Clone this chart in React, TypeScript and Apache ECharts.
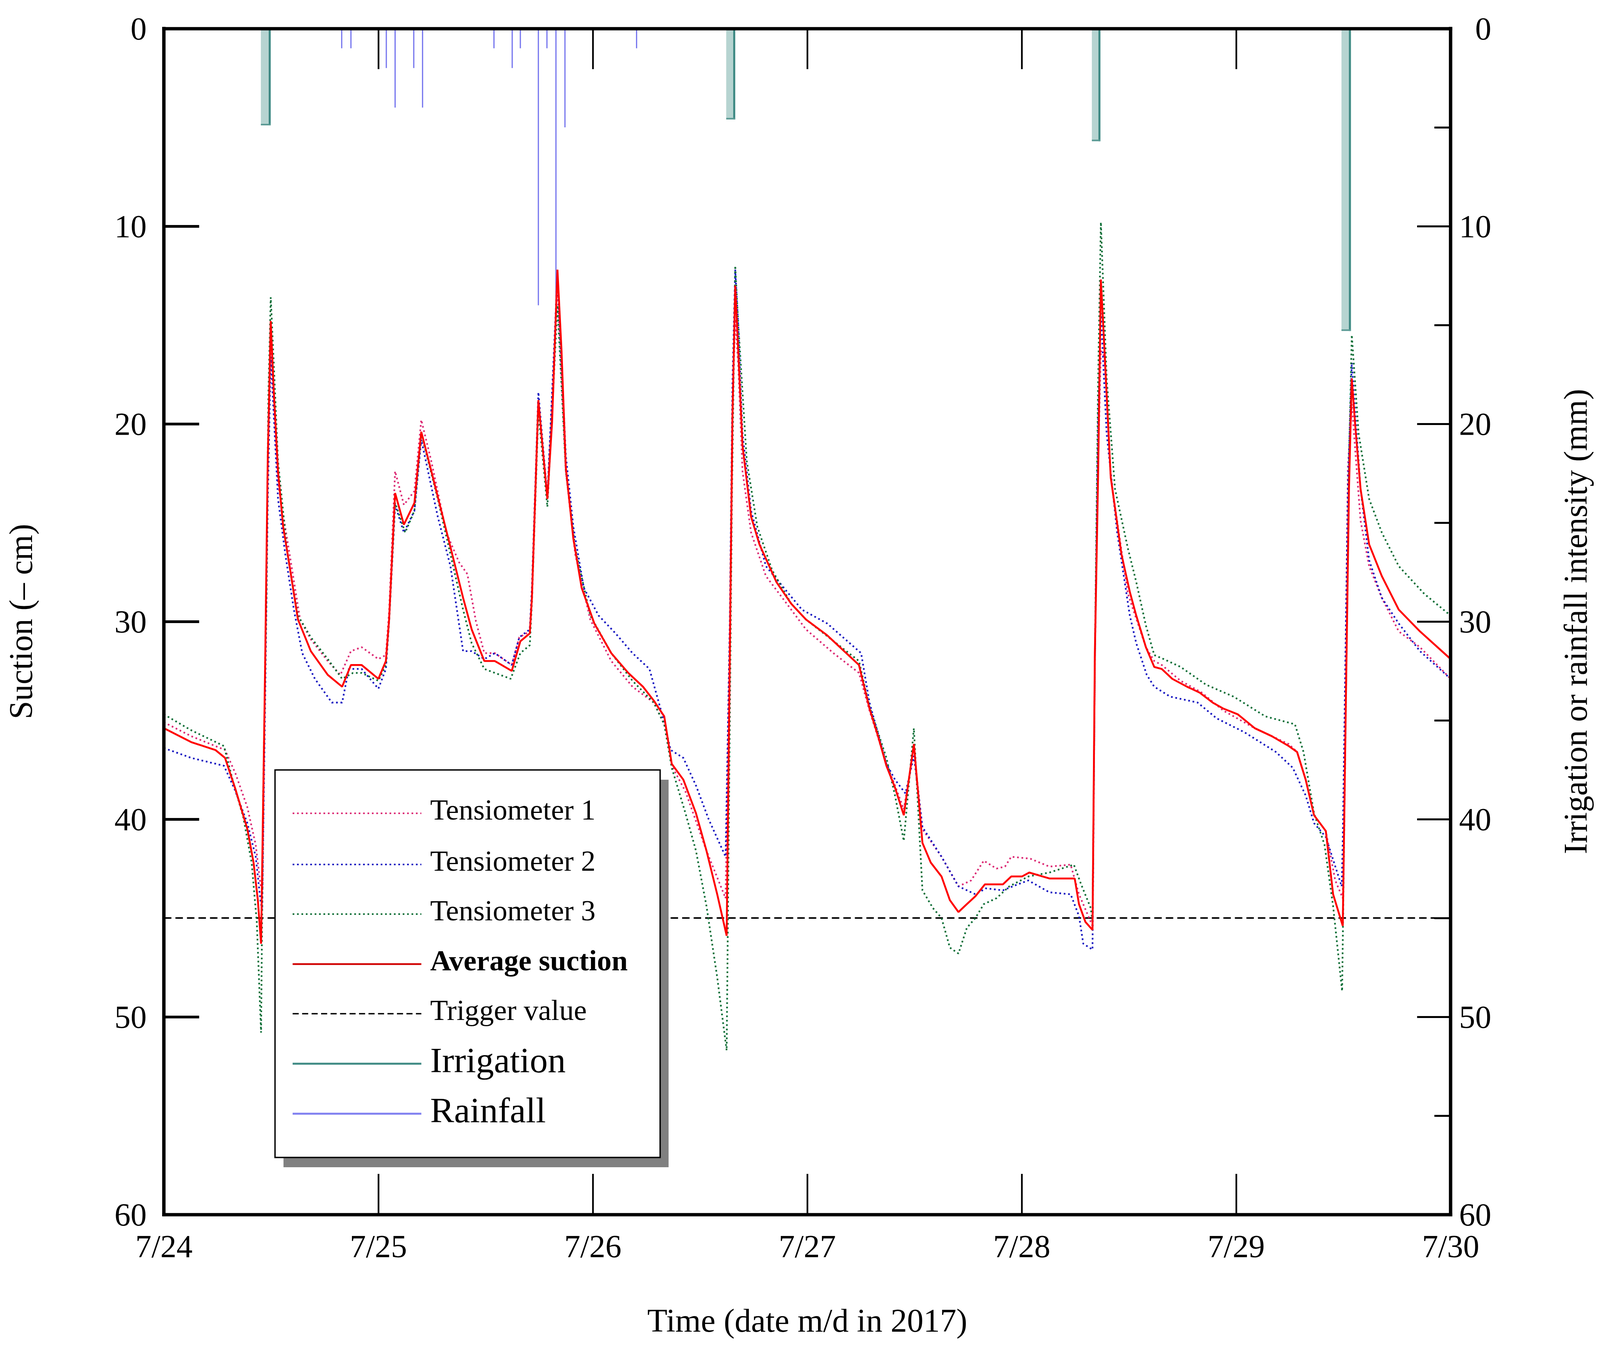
import React, { useEffect, useRef, useState } from "react";
import * as echarts from "echarts";

const W = 4724;
const H = 3461;
const FONT = "'Liberation Serif', 'Times New Roman', serif";

// ---- tick labels ----
const dateLabels = ["7/24", "7/25", "7/26", "7/27", "7/28", "7/29", "7/30"];

// ---- trigger value (suction, -cm) ----
const triggerValue = 45;

// ---- irrigation events: [start day, end day, amount mm] ----
const irrigation: number[][] = [
  [0.452, 0.498, 4.9],
  [2.622, 2.664, 4.6],
  [4.327, 4.367, 5.7],
  [5.491, 5.535, 15.3],
];

// ---- rainfall: [day, mm] ----
const rainfall: number[][] = [
  [0.829, 1], [0.872, 1], [1.037, 2], [1.078, 4], [1.165, 2], [1.206, 4],
  [1.539, 1], [1.624, 2], [1.662, 1], [1.746, 14], [1.786, 1], [1.828, 14],
  [1.87, 5], [2.204, 1],
];

// ---- tensiometer 1: [day, suction] ----
const tensiometer1: number[][] = [
  [0, 35.1], [0.127, 35.8], [0.285, 36.5], [0.334, 37.7], [0.389, 39.4], [0.428, 41.3],
  [0.45, 43.3], [0.46, 43.6], [0.472, 32.0], [0.484, 22.0], [0.498, 15.8], [0.512, 18.8],
  [0.532, 23.0], [0.586, 26.6], [0.635, 29.9], [0.685, 30.9], [0.764, 32.0], [0.823, 32.7],
  [0.872, 31.5], [0.922, 31.3], [1.0, 31.9], [1.035, 31.7], [1.05, 29.5], [1.078, 22.4],
  [1.119, 24.1], [1.168, 23.4], [1.2, 19.8], [1.247, 21.9], [1.317, 25.5], [1.376, 27.0],
  [1.415, 27.6], [1.455, 30.0], [1.494, 31.6], [1.543, 31.6], [1.622, 32.2], [1.657, 30.8],
  [1.706, 30.5], [1.716, 28.5], [1.746, 18.8], [1.788, 23.7], [1.835, 13.0], [1.874, 22.4],
  [1.918, 26.6], [1.988, 29.9], [2.086, 32.0], [2.185, 33.3], [2.284, 34.1], [2.333, 35.2],
  [2.368, 37.3], [2.432, 38.6], [2.53, 41.6], [2.619, 44.0], [2.639, 30.0], [2.651, 19.0],
  [2.664, 14.7], [2.678, 17.0], [2.698, 22.4], [2.738, 25.5], [2.807, 27.7], [2.925, 29.4],
  [2.994, 30.4], [3.122, 31.6], [3.241, 32.6], [3.29, 34.5], [3.369, 37.2], [3.409, 38.3],
  [3.45, 39.5], [3.497, 36.5], [3.537, 40.5], [3.626, 41.9], [3.705, 43.4], [3.764, 43.1],
  [3.823, 42.1], [3.882, 42.5], [3.922, 42.4], [3.951, 41.9], [4.04, 42.0], [4.129, 42.4],
  [4.228, 42.3], [4.267, 43.8], [4.33, 45.4], [4.341, 32.0], [4.356, 22.0], [4.369, 16.3],
  [4.386, 16.6], [4.415, 22.7], [4.465, 26.4], [4.495, 28.6], [4.579, 31.3], [4.618, 32.0],
  [4.653, 32.2], [4.741, 33.0], [4.84, 33.6], [4.939, 34.5], [5.087, 35.4], [5.245, 36.2],
  [5.284, 36.6], [5.324, 38.0], [5.363, 39.8], [5.418, 40.6], [5.462, 43.1], [5.497, 44.0],
  [5.521, 22.2], [5.539, 19.0], [5.58, 24.9], [5.62, 27.2], [5.679, 28.8], [5.758, 30.5],
  [5.857, 31.3], [6.0, 32.9],
];

// ---- tensiometer 2 ----
const tensiometer2: number[][] = [
  [0, 36.4], [0.127, 36.9], [0.28, 37.3], [0.33, 38.5], [0.389, 40.2], [0.428, 41.9],
  [0.45, 44.1], [0.458, 44.6], [0.472, 34.0], [0.484, 24.0], [0.498, 16.6], [0.512, 19.5],
  [0.532, 23.8], [0.566, 26.6], [0.606, 29.4], [0.645, 31.6], [0.704, 32.9], [0.783, 34.1],
  [0.831, 34.1], [0.862, 32.4], [0.922, 32.4], [1.0, 33.4], [1.035, 32.4], [1.05, 30.0],
  [1.078, 24.1], [1.119, 25.5], [1.168, 24.4], [1.2, 20.8], [1.277, 24.7], [1.336, 27.2],
  [1.395, 31.5], [1.435, 31.5], [1.494, 31.9], [1.543, 31.6], [1.622, 32.2], [1.657, 30.8],
  [1.706, 30.4], [1.716, 28.3], [1.746, 18.4], [1.788, 23.7], [1.835, 12.4], [1.874, 21.6],
  [1.909, 25.2], [1.958, 28.3], [2.027, 29.7], [2.106, 30.6], [2.185, 31.6], [2.264, 32.4],
  [2.323, 34.7], [2.363, 36.5], [2.422, 36.9], [2.481, 38.3], [2.54, 40.0], [2.619, 41.9],
  [2.639, 30.0], [2.651, 18.0], [2.664, 12.2], [2.678, 15.0], [2.698, 20.5], [2.738, 24.4],
  [2.807, 27.2], [2.975, 29.4], [3.093, 30.1], [3.251, 31.6], [3.29, 34.1], [3.369, 37.2],
  [3.409, 38.0], [3.458, 38.7], [3.497, 36.8], [3.537, 40.4], [3.626, 41.9], [3.705, 43.4],
  [3.784, 43.8], [3.833, 43.5], [3.912, 43.6], [3.981, 43.3], [4.031, 43.1], [4.129, 43.7],
  [4.228, 43.8], [4.267, 44.9], [4.287, 46.3], [4.33, 46.6], [4.341, 32.0], [4.356, 20.0],
  [4.369, 14.4], [4.396, 20.5], [4.445, 25.5], [4.504, 29.7], [4.534, 31.1], [4.583, 32.7],
  [4.618, 33.3], [4.692, 33.8], [4.82, 34.1], [4.909, 34.9], [5.038, 35.6], [5.185, 36.6],
  [5.264, 37.4], [5.324, 38.8], [5.363, 40.2], [5.418, 40.9], [5.492, 43.4], [5.497, 41.0],
  [5.521, 23.3], [5.539, 16.9], [5.58, 23.3], [5.62, 26.9], [5.679, 28.8], [5.758, 30.1],
  [5.857, 31.5], [6.0, 32.9],
];

// ---- tensiometer 3 ----
const tensiometer3: number[][] = [
  [0, 34.7], [0.127, 35.5], [0.28, 36.3], [0.32, 38.0], [0.37, 39.9], [0.409, 42.2],
  [0.433, 45.2], [0.453, 50.8], [0.463, 38.6], [0.478, 28.8], [0.487, 18.6], [0.498, 13.6],
  [0.512, 16.9], [0.532, 21.9], [0.576, 26.6], [0.625, 29.7], [0.685, 30.8], [0.764, 31.9],
  [0.831, 32.9], [0.882, 32.6], [0.922, 32.6], [1.0, 33.0], [1.035, 32.2], [1.05, 30.0],
  [1.078, 24.0], [1.125, 25.5], [1.168, 24.4], [1.2, 20.5], [1.277, 23.8], [1.336, 26.6],
  [1.395, 29.4], [1.435, 31.1], [1.494, 32.4], [1.617, 32.9], [1.662, 31.6], [1.706, 31.2],
  [1.716, 29.0], [1.746, 19.4], [1.788, 24.2], [1.835, 14.0], [1.874, 22.4], [1.918, 26.3],
  [1.988, 29.7], [2.086, 31.6], [2.185, 33.0], [2.284, 34.1], [2.333, 35.2], [2.368, 37.4],
  [2.432, 39.7], [2.481, 41.6], [2.53, 44.4], [2.58, 48.0], [2.624, 51.7], [2.649, 23.3],
  [2.664, 12.0], [2.678, 14.9], [2.718, 21.9], [2.767, 25.2], [2.836, 27.4], [2.925, 29.1],
  [2.994, 29.9], [3.241, 32.0], [3.29, 34.3], [3.369, 36.9], [3.409, 38.8], [3.45, 41.1],
  [3.497, 35.4], [3.537, 43.6], [3.586, 44.5], [3.626, 45.0], [3.665, 46.5], [3.705, 46.8],
  [3.744, 45.5], [3.784, 45.0], [3.823, 44.3], [3.882, 44.0], [3.942, 43.4], [4.031, 42.9],
  [4.129, 42.7], [4.243, 42.3], [4.277, 43.3], [4.322, 44.5], [4.33, 45.2], [4.343, 30.0],
  [4.356, 18.0], [4.369, 9.8], [4.396, 17.7], [4.435, 23.3], [4.495, 26.3], [4.534, 28.0],
  [4.579, 30.2], [4.618, 31.7], [4.662, 31.9], [4.741, 32.3], [4.86, 33.2], [4.988, 33.8],
  [5.136, 34.8], [5.274, 35.2], [5.314, 36.6], [5.363, 39.7], [5.412, 41.3], [5.452, 44.4],
  [5.494, 48.7], [5.511, 34.4], [5.526, 21.9], [5.539, 15.5], [5.571, 20.5], [5.62, 23.8],
  [5.679, 25.5], [5.758, 27.2], [5.877, 28.6], [6.0, 29.7],
];

// ---- average suction ----
const averageSuction: number[][] = [
  [0, 35.4], [0.127, 36.1], [0.24, 36.5], [0.285, 36.9], [0.334, 38.5], [0.389, 40.5],
  [0.418, 42.2], [0.438, 44.1], [0.453, 46.3], [0.472, 32.2], [0.484, 21.9], [0.498, 14.8],
  [0.512, 18.3], [0.532, 22.4], [0.556, 25.2], [0.586, 27.2], [0.625, 29.9], [0.685, 31.5],
  [0.764, 32.7], [0.831, 33.3], [0.872, 32.2], [0.922, 32.2], [1.0, 32.9], [1.035, 32.0],
  [1.05, 29.9], [1.078, 23.5], [1.119, 25.1], [1.168, 24.0], [1.2, 20.4], [1.247, 22.4],
  [1.326, 25.8], [1.395, 28.8], [1.435, 30.4], [1.494, 32.0], [1.543, 32.0], [1.622, 32.5],
  [1.662, 31.0], [1.706, 30.6], [1.716, 28.8], [1.746, 18.8], [1.76, 20.5], [1.788, 23.8],
  [1.81, 19.9], [1.835, 12.2], [1.854, 16.3], [1.874, 22.2], [1.909, 25.8], [1.948, 28.3],
  [2.007, 30.1], [2.086, 31.6], [2.165, 32.6], [2.234, 33.3], [2.284, 34.0], [2.333, 34.8],
  [2.368, 37.2], [2.422, 38.0], [2.481, 39.7], [2.53, 41.6], [2.58, 43.8], [2.624, 45.9],
  [2.639, 31.6], [2.651, 19.7], [2.664, 13.0], [2.678, 16.3], [2.698, 21.1], [2.738, 24.7],
  [2.777, 26.1], [2.856, 28.0], [2.925, 29.1], [2.994, 29.9], [3.093, 30.7], [3.241, 32.2],
  [3.29, 34.4], [3.33, 35.8], [3.369, 37.3], [3.409, 38.4], [3.45, 39.8], [3.497, 36.2],
  [3.537, 41.2], [3.576, 42.2], [3.626, 42.9], [3.665, 44.1], [3.705, 44.7], [3.744, 44.3],
  [3.784, 43.9], [3.828, 43.3], [3.882, 43.3], [3.912, 43.3], [3.951, 42.9], [4.001, 42.9],
  [4.035, 42.7], [4.129, 43.0], [4.247, 43.0], [4.267, 44.3], [4.297, 45.2], [4.33, 45.6],
  [4.341, 31.6], [4.356, 22.7], [4.369, 12.7], [4.386, 16.3], [4.415, 22.7], [4.465, 26.6],
  [4.504, 28.5], [4.534, 29.7], [4.579, 31.3], [4.618, 32.3], [4.653, 32.4], [4.702, 32.9],
  [4.771, 33.3], [4.83, 33.6], [4.89, 34.1], [4.939, 34.4], [5.008, 34.7], [5.087, 35.4],
  [5.166, 35.8], [5.245, 36.3], [5.284, 36.6], [5.324, 38.0], [5.363, 39.8], [5.418, 40.6],
  [5.452, 43.8], [5.497, 45.4], [5.511, 34.4], [5.526, 23.3], [5.539, 17.7], [5.556, 20.2],
  [5.58, 23.3], [5.62, 26.1], [5.679, 27.7], [5.758, 29.4], [5.857, 30.5], [6.0, 31.9],
];

// ---- colours ----
const C_T1 = "#dc2a74";
const C_T2 = "#1414c0";
const C_T3 = "#0e6e36";
const C_AVG = "#ff0000";
const C_IRR_FILL = "#b6d4d1";
const C_IRR_EDGE = "#3f8a84";
const C_RAIN = "#7474ee";

function getViewport() {
  const vw = window.innerWidth || document.documentElement.clientWidth || W;
  const vh = window.innerHeight || document.documentElement.clientHeight || H;
  return { vw, vh };
}

export default function App() {
  const ref = useRef<HTMLDivElement | null>(null);
  const [size, setSize] = useState(() => {
    document.body.style.margin = "0";
    document.documentElement.style.overflow = "hidden";
    document.body.style.overflow = "hidden";
    return getViewport();
  });

  useEffect(() => {
    if (!ref.current) return;
    const { vw, vh } = size;
    const kx = vw / W;
    const ky = vh / H;
    const kf = Math.min(kx, ky);
    const X = (v: number) => v * kx;
    const Y = (v: number) => v * ky;
    const F = (v: number) => v * kf;

    const chart = echarts.init(ref.current, undefined, { renderer: "svg", width: vw, height: vh });

    const gridLeft = 484;
    const gridRight = 4283;
    const gridTop = 73;
    const gridBottom = 3109;

    const labelStyle = { fontFamily: FONT, fontSize: F(95), color: "#000" };
    const nameStyle = { fontFamily: FONT, fontSize: F(97), color: "#000" };
    const DOT = [F(5), F(8)];
    const DASH = [F(22), F(12)];

    const renderIrrigation = (_params: any, api: any) => {
      const a = api.coord([api.value(0), 0]);
      const b = api.coord([api.value(1), api.value(2)]);
      const x0 = a[0];
      const y0 = a[1];
      const x1 = b[0];
      const y1 = b[1];
      const ew = X(6);
      const eh = Y(4);
      return {
        type: "group",
        children: [
          { type: "rect", shape: { x: x0, y: y0, width: x1 - x0, height: y1 - y0 }, style: { fill: C_IRR_FILL } },
          { type: "rect", shape: { x: x1 - ew, y: y0, width: ew, height: y1 - y0 }, style: { fill: C_IRR_EDGE } },
          { type: "rect", shape: { x: x0, y: y1 - eh, width: x1 - x0, height: eh }, style: { fill: "#5a9a94" } },
        ],
      };
    };

    const renderRain = (_params: any, api: any) => {
      const a = api.coord([api.value(0), 0]);
      const b = api.coord([api.value(0), api.value(1)]);
      return {
        type: "line",
        shape: { x1: a[0], y1: a[1], x2: b[0], y2: b[1] },
        style: { stroke: C_RAIN, lineWidth: F(3.5) },
      };
    };

    // legend drawn as graphic
    const legendItems = [
      { label: "Tensiometer 1", color: C_T1, width: 4.5, dash: [5, 8], size: 86, bold: false },
      { label: "Tensiometer 2", color: C_T2, width: 4.5, dash: [5, 8], size: 86, bold: false },
      { label: "Tensiometer 3", color: C_T3, width: 4.5, dash: [5, 8], size: 86, bold: false },
      { label: "Average suction", color: "#d00000", width: 5, dash: null as number[] | null, size: 86, bold: true },
      { label: "Trigger value", color: "#000", width: 4, dash: [18, 10], size: 86, bold: false },
      { label: "Irrigation", color: C_IRR_EDGE, width: 6, dash: null as number[] | null, size: 106, bold: false },
      { label: "Rainfall", color: "#8080f0", width: 6, dash: null as number[] | null, size: 106, bold: false },
    ];
    const rowY = [2082, 2213, 2340, 2468, 2595, 2723, 2851];
    const boxX = 812;
    const boxY = 1971;
    const boxW = 1137;
    const boxH = 992;

    const graphics: any[] = [
      { type: "rect", z: 100, shape: { x: X(boxX + 25), y: Y(boxY + 25), width: X(boxW), height: Y(boxH) }, style: { fill: "#808080" } },
      { type: "rect", z: 101, shape: { x: X(boxX), y: Y(boxY), width: X(boxW), height: Y(boxH) }, style: { fill: "#fff", stroke: "#000", lineWidth: F(4) } },
    ];
    legendItems.forEach((it, i) => {
      const y = Y(rowY[i]);
      graphics.push({
        type: "line",
        z: 102,
        shape: { x1: X(864), y1: y, x2: X(1244), y2: y },
        style: { stroke: it.color, lineWidth: F(it.width), lineDash: it.dash ? it.dash.map(F) : undefined },
      });
      graphics.push({
        type: "text",
        z: 102,
        x: X(1270),
        y: y - Y(9),
        style: {
          text: it.label,
          fontFamily: FONT,
          fontSize: F(it.size),
          fontWeight: it.bold ? "bold" : "normal",
          fill: "#000",
          align: "left",
          verticalAlign: "middle",
        },
      });
    });

    const axisLineStyle = { color: "#000", width: F(10), cap: "square" };

    const option: any = {
      animation: false,
      backgroundColor: "#fff",
      grid: {
        left: X(gridLeft),
        right: X(W - gridRight),
        top: Y(gridTop),
        bottom: Y(H - gridBottom),
        containLabel: false,
      },
      xAxis: [
        {
          type: "value",
          min: 0,
          max: 6,
          interval: 1,
          position: "bottom",
          z: 10,
          axisLine: { show: true, onZero: false, lineStyle: axisLineStyle },
          axisTick: { show: true, inside: true, length: Y(104), lineStyle: { color: "#000", width: F(5) } },
          axisLabel: {
            margin: Y(40),
            formatter: (v: number) => dateLabels[Math.round(v)] ?? "",
            ...labelStyle,
          },
          splitLine: { show: false },
          name: "Time (date m/d in 2017)",
          nameLocation: "middle",
          nameGap: Y(229),
          nameTextStyle: nameStyle,
        },
        {
          type: "value",
          min: 0,
          max: 6,
          interval: 1,
          position: "top",
          z: 10,
          axisLine: { show: true, onZero: false, lineStyle: axisLineStyle },
          axisTick: { show: true, inside: true, length: Y(104), lineStyle: { color: "#000", width: F(5) } },
          axisLabel: { show: false },
          splitLine: { show: false },
        },
      ],
      yAxis: [
        {
          type: "value",
          min: 0,
          max: 60,
          interval: 10,
          inverse: true,
          position: "left",
          z: 10,
          axisLine: { show: true, onZero: false, lineStyle: axisLineStyle },
          axisTick: { show: true, inside: true, length: X(104), lineStyle: { color: "#000", width: F(8) } },
          axisLabel: { margin: X(51), ...labelStyle },
          splitLine: { show: false },
          name: "Suction (– cm)",
          nameLocation: "middle",
          nameRotate: 90,
          nameGap: X(374),
          nameTextStyle: nameStyle,
        },
        {
          type: "value",
          min: 0,
          max: 60,
          interval: 10,
          inverse: true,
          position: "right",
          z: 10,
          axisLine: { show: true, onZero: false, lineStyle: axisLineStyle },
          axisTick: { show: true, inside: true, length: X(99), lineStyle: { color: "#000", width: F(6) } },
          minorTick: { show: true, splitNumber: 2, length: X(48), lineStyle: { color: "#000", width: F(6) } },
          axisLabel: { margin: X(120), align: "right", ...labelStyle },
          splitLine: { show: false },
          minorSplitLine: { show: false },
          name: "Irrigation or rainfall intensity (mm)",
          nameLocation: "middle",
          nameRotate: 90,
          nameGap: X(321),
          nameTextStyle: nameStyle,
        },
      ],
      series: [
        {
          type: "custom",
          name: "Irrigation",
          xAxisIndex: 0,
          yAxisIndex: 1,
          data: irrigation,
          encode: { x: [0, 1], y: 2 },
          renderItem: renderIrrigation,
          z: 1,
        },
        {
          type: "custom",
          name: "Rainfall",
          xAxisIndex: 0,
          yAxisIndex: 1,
          data: rainfall,
          encode: { x: 0, y: 1 },
          renderItem: renderRain,
          z: 1,
        },
        {
          type: "line",
          name: "Trigger value",
          xAxisIndex: 0,
          yAxisIndex: 0,
          data: [[0, triggerValue], [6, triggerValue]],
          symbol: "none",
          lineStyle: { color: "#000", width: F(4.5), type: DASH },
          z: 2,
        },
        {
          type: "line",
          name: "Tensiometer 1",
          data: tensiometer1,
          symbol: "none",
          lineStyle: { color: C_T1, width: F(5), type: DOT },
          z: 3,
        },
        {
          type: "line",
          name: "Tensiometer 2",
          data: tensiometer2,
          symbol: "none",
          lineStyle: { color: C_T2, width: F(5), type: DOT },
          z: 3,
        },
        {
          type: "line",
          name: "Tensiometer 3",
          data: tensiometer3,
          symbol: "none",
          lineStyle: { color: C_T3, width: F(5), type: DOT },
          z: 3,
        },
        {
          type: "line",
          name: "Average suction",
          data: averageSuction,
          symbol: "none",
          lineStyle: { color: C_AVG, width: F(5.5) },
          z: 4,
        },
      ],
      graphic: graphics,
    };

    chart.setOption(option);
    return () => {
      chart.dispose();
    };
  }, [size]);

  useEffect(() => {
    const onResize = () => setSize(getViewport());
    window.addEventListener("resize", onResize);
    return () => window.removeEventListener("resize", onResize);
  }, []);

  return <div ref={ref} style={{ width: size.vw, height: size.vh, display: "block", overflow: "hidden" }} />;
}
